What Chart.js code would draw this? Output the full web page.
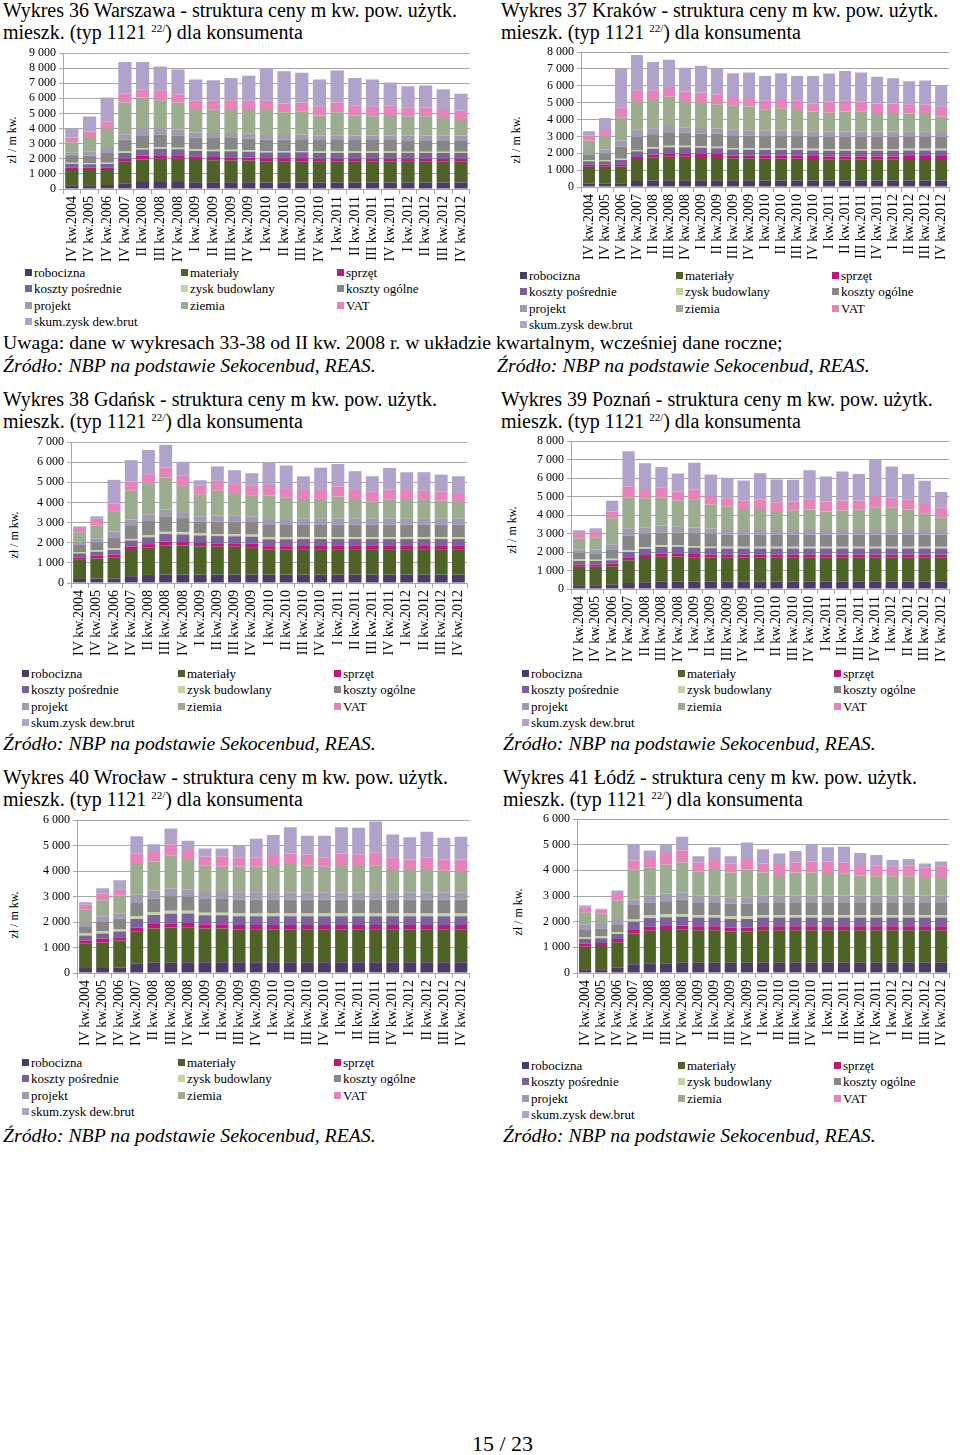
<!DOCTYPE html>
<html lang="pl">
<head>
<meta charset="utf-8">
<script src="https://cdn.jsdelivr.net/npm/chart.js@4/dist/chart.umd.min.js"></script>
<style>
  html, body { margin: 0; padding: 0; background: #fff; }
  body { width: 960px; height: 1455px; position: relative; overflow: hidden;
         font-family: "Liberation Serif", "Times New Roman", serif; color: #000; }
  .txt { position: absolute; white-space: nowrap; font-size: 20px; line-height: 22px; }
  .txt sup { font-size: 11px; vertical-align: 7px; line-height: 0; }
  .note { font-size: 19.7px; }
  .src { font-style: italic; font-size: 19.8px; }
  .ytitle { position: absolute; font-size: 12px; white-space: nowrap;
            transform: translate(-50%, -50%) rotate(-90deg); }
  .leg { position: absolute; font-size: 13px; line-height: 16px; white-space: nowrap; }
  .leg i { display: inline-block; width: 7px; height: 7px; margin-right: 2px; vertical-align: 1px; }
  canvas { position: absolute; }
</style>
</head>
<body>
<script>
// kategorie (osie X) i skladniki ceny
const kwartaly = ['IV kw.2004', 'IV kw.2005', 'IV kw.2006', 'IV kw.2007', 'II kw.2008', 'III kw.2008',
  'IV kw.2008', 'I kw.2009', 'II kw.2009', 'III kw.2009', 'IV kw.2009', 'I kw.2010', 'II kw.2010',
  'III kw.2010', 'IV kw.2010', 'I kw.2011', 'II kw.2011', 'III kw.2011', 'IV kw.2011', 'I kw.2012',
  'II kw.2012', 'III kw.2012', 'IV kw.2012'];
const skladniki = ['robocizna', 'materiały', 'sprzęt', 'koszty pośrednie', 'zysk budowlany',
  'koszty ogólne', 'projekt', 'ziemia', 'VAT', 'skum.zysk dew.brut'];
const kolory = ['#4a3b68', '#4f6228', '#c0187c', '#7d619e', '#c3d69b',
  '#878787', '#a09bb2', '#9cac8f', '#e584b8', '#b1a2cc'];

// Warszawa (zł / m kw.)
const wawRobocizna = [250,250,260,350,460,460,460,440,440,440,440,430,430,430,430,430,430,430,430,430,430,430,430];
const wawMaterialy = [1000,1000,1000,1450,1500,1540,1540,1480,1460,1450,1440,1400,1400,1410,1380,1380,1380,1380,1380,1370,1370,1370,1370];
const wawSprzet = [150,150,150,200,240,240,230,220,220,210,200,200,200,200,200,200,200,200,200,200,200,200,200];
const wawKosztyPosr = [250,230,250,380,410,420,400,380,380,390,390,380,380,390,380,380,380,380,380,380,380,380,380];
const wawZyskBud = [80,80,80,100,110,110,100,100,100,100,100,90,90,90,90,90,90,90,90,90,90,90,90];
const wawKosztyOg = [450,500,640,800,830,820,800,780,780,790,780,780,770,770,760,770,760,760,760,760,760,760,760];
const wawProjekt = [220,250,400,350,440,420,400,330,320,320,310,300,300,300,300,300,300,300,300,310,310,300,310];
const wawZiemia = [700,980,1200,2100,2070,1870,1800,1570,1550,1600,1570,1650,1510,1530,1320,1530,1320,1270,1360,1270,1270,1170,1100];
const wawVat = [300,360,470,570,540,660,540,580,590,580,610,610,580,610,590,650,650,640,610,590,590,590,540];
const wawSkum = [600,1000,1600,2100,1800,1560,1630,1370,1360,1470,1660,2160,2140,1970,1800,2120,1840,1800,1540,1400,1450,1310,1120];

// Kraków
const krkRobocizna = [200,200,220,350,380,400,400,400,400,400,400,390,390,390,390,390,390,390,390,390,390,390,390];
const krkMaterialy = [1000,1000,1000,1250,1350,1400,1400,1380,1380,1300,1300,1290,1290,1290,1270,1250,1250,1250,1250,1250,1270,1270,1270];
const krkSprzet = [120,130,130,180,180,180,180,180,170,170,170,170,170,170,170,170,170,170,170,170,170,170,170];
const krkKosztyPosr = [200,200,250,340,360,380,370,360,350,350,340,340,340,340,340,340,340,340,340,340,340,340,340];
const krkZyskBud = [70,70,80,80,90,90,90,90,90,90,90,90,90,90,90,90,90,90,90,90,90,90,90];
const krkKosztyOg = [350,380,700,770,770,790,770,760,760,760,740,730,730,730,730,730,730,730,730,730,720,720,700];
const krkProjekt = [200,240,380,420,350,380,330,330,320,320,320,320,320,320,320,320,320,320,320,320,320,320,300];
const krkZiemia = [600,780,1370,1710,1670,1730,1560,1500,1440,1460,1410,1250,1330,1290,1170,1110,1190,1170,1090,1090,1060,1020,910];
const krkVat = [300,440,590,640,590,580,560,600,590,490,570,530,490,490,490,650,630,590,570,570,550,550,580];
const krkSkum = [260,650,2280,2080,1670,1610,1410,1590,1500,1400,1440,1470,1590,1470,1610,1670,1770,1730,1590,1490,1360,1440,1280];

// Gdańsk
const gdaRobocizna = [200,220,230,340,400,420,420,420,420,420,420,420,420,420,420,420,420,420,420,420,420,420,420];
const gdaMaterialy = [950,1000,1050,1300,1350,1450,1440,1400,1380,1380,1360,1250,1250,1260,1260,1260,1260,1260,1260,1260,1260,1260,1260];
const gdaSprzet = [120,130,130,170,180,180,170,170,170,170,170,160,160,160,160,160,160,160,160,160,160,160,160];
const gdaKosztyPosr = [200,200,230,300,340,380,380,370,360,350,350,340,340,340,340,340,340,340,340,340,340,340,340];
const gdaZyskBud = [70,70,80,80,90,110,110,100,100,100,100,90,90,90,90,90,90,90,90,90,90,90,90];
const gdaKosztyOg = [350,380,550,680,720,740,700,580,620,620,620,620,620,620,620,620,620,620,620,620,620,620,620];
const gdaProjekt = [150,200,280,280,330,360,300,250,300,300,290,300,300,300,300,300,300,300,300,300,300,300,300];
const gdaZiemia = [480,660,980,1430,1500,1600,1340,1100,1230,1130,1050,1170,1080,980,980,1100,980,870,970,930,930,900,820];
const gdaVat = [210,330,400,460,490,490,490,440,490,440,460,520,450,450,490,500,450,490,490,500,460,440,460];
const gdaSkum = [80,120,1190,1060,1200,1130,670,270,720,690,630,1110,1120,680,1070,1120,930,750,1060,880,920,850,830];

// Poznań
const pozRobocizna = [200,200,230,330,370,400,400,400,400,400,400,400,400,400,400,400,400,400,400,400,400,400,400];
const pozMaterialy = [1000,1000,1000,1220,1300,1350,1360,1320,1300,1290,1290,1290,1290,1290,1290,1290,1290,1290,1290,1290,1290,1290,1290];
const pozSprzet = [120,120,130,170,170,170,170,170,160,160,160,160,160,160,160,160,160,160,160,160,160,160,160];
const pozKosztyPosr = [200,190,200,280,340,350,350,340,340,340,340,340,340,340,340,340,340,340,340,340,340,340,340];
const pozZyskBud = [70,70,70,80,90,100,100,90,90,90,90,90,90,90,90,90,90,90,90,90,90,90,90];
const pozKosztyOg = [350,350,520,800,700,680,680,680,680,660,660,660,660,660,660,660,660,660,660,660,660,660,660];
const pozProjekt = [180,200,270,380,370,380,330,330,300,300,300,300,300,300,300,300,300,300,300,300,300,300,300];
const pozZiemia = [600,640,1410,1700,1570,1530,1390,1490,1300,1220,1090,1090,970,1000,1060,950,1000,1040,1180,1150,1060,860,640];
const pozVat = [300,310,360,580,500,510,490,560,450,450,450,510,480,490,520,540,540,500,600,570,520,500,510];
const pozSkum = [150,210,580,1910,1390,1130,970,1450,1170,1100,1080,1420,1230,1170,1600,1350,1570,1440,1980,1660,1400,1250,860];

// Wrocław
const wroRobocizna = [200,200,220,360,400,400,420,420,420,420,420,420,420,420,420,420,420,420,420,420,420,420,420];
const wroMaterialy = [950,1000,1050,1260,1350,1380,1370,1330,1330,1300,1300,1300,1300,1300,1300,1300,1300,1300,1300,1300,1300,1300,1300];
const wroSprzet = [120,150,130,160,170,170,170,160,160,160,160,160,160,160,160,160,160,160,160,160,160,160,160];
const wroKosztyPosr = [200,200,230,340,350,370,370,350,350,350,350,350,350,350,350,350,350,350,350,350,350,350,350];
const wroZyskBud = [80,80,80,100,100,120,110,100,100,100,100,100,100,100,100,100,100,100,100,100,100,100,100];
const wroKosztyOg = [280,400,420,550,550,570,550,540,540,540,540,540,540,540,540,540,540,540,540,540,540,540,540];
const wroProjekt = [150,200,200,300,320,300,280,280,280,300,300,300,300,300,300,300,300,300,300,300,300,300,300];
const wroZiemia = [520,620,710,1200,1130,1310,1160,1030,990,1000,1000,1030,1100,1060,1000,1030,1030,1060,910,870,910,840,830];
const wroVat = [190,260,240,420,380,430,390,360,390,360,360,390,420,420,360,490,450,500,440,410,450,440,450];
const wroSkum = [80,210,360,670,300,620,370,310,320,460,730,820,1030,730,850,1030,1050,1210,910,870,1010,850,890];

// Łódź
const lodRobocizna = [150,150,200,340,380,380,400,400,400,400,400,400,400,400,400,400,400,400,400,400,400,400,400];
const lodMaterialy = [870,900,1000,1200,1270,1300,1300,1270,1270,1220,1220,1270,1270,1270,1270,1270,1270,1270,1270,1270,1270,1270,1270];
const lodSprzet = [120,120,120,160,150,150,150,150,150,150,150,150,150,150,150,150,150,150,150,150,150,150,150];
const lodKosztyPosr = [180,180,200,300,340,340,340,340,340,330,330,340,340,340,340,340,340,340,340,340,340,340,340];
const lodZyskBud = [80,80,80,100,100,110,110,100,100,100,100,100,100,100,100,100,100,100,100,100,100,100,100];
const lodKosztyOg = [300,300,300,550,500,520,560,500,500,500,500,500,500,500,500,500,500,500,500,500,500,500,500];
const lodProjekt = [200,180,200,200,270,300,280,250,250,250,250,250,250,250,250,250,250,250,250,250,250,250,250];
const lodZiemia = [470,400,720,1170,1110,1120,1170,950,1040,970,1080,910,810,910,910,890,880,790,760,760,760,690,690];
const lodVat = [170,160,260,360,360,420,460,350,390,350,410,350,430,390,420,440,420,410,410,370,410,420,460];
const lodSkum = [90,30,130,650,290,360,540,240,460,280,640,550,410,440,690,560,610,470,420,260,260,150,180];

const wykresy = [
  { nr: 36, miasto: 'Warszawa', max: 9000, x: 3, tytulY: -1, left: 0, right: 480, plotLeft: 63, plotRight: 470, plotTop: 52, plotBottom: 189,
    yt: [12, 140], leg: [25, 273],
    series: [wawRobocizna, wawMaterialy, wawSprzet, wawKosztyPosr, wawZyskBud, wawKosztyOg, wawProjekt, wawZiemia, wawVat, wawSkum] },
  { nr: 37, miasto: 'Kraków', max: 8000, x: 501, tytulY: -1, left: 500, right: 960, plotLeft: 581, plotRight: 957, plotTop: 51, plotBottom: 187,
    yt: [516, 140], leg: [520, 276],
    series: [krkRobocizna, krkMaterialy, krkSprzet, krkKosztyPosr, krkZyskBud, krkKosztyOg, krkProjekt, krkZiemia, krkVat, krkSkum] },
  { nr: 38, miasto: 'Gdańsk', max: 7000, x: 3, tytulY: 388, left: 0, right: 480, plotLeft: 71, plotRight: 467, plotTop: 441, plotBottom: 583,
    yt: [14, 535], leg: [22, 674],
    series: [gdaRobocizna, gdaMaterialy, gdaSprzet, gdaKosztyPosr, gdaZyskBud, gdaKosztyOg, gdaProjekt, gdaZiemia, gdaVat, gdaSkum] },
  { nr: 39, miasto: 'Poznań', max: 8000, x: 501, tytulY: 388, left: 500, right: 960, plotLeft: 571, plotRight: 955, plotTop: 440, plotBottom: 589,
    yt: [512, 530], leg: [522, 674],
    series: [pozRobocizna, pozMaterialy, pozSprzet, pozKosztyPosr, pozZyskBud, pozKosztyOg, pozProjekt, pozZiemia, pozVat, pozSkum] },
  { nr: 40, miasto: 'Wrocław', max: 6000, x: 3, tytulY: 766, left: 0, right: 480, plotLeft: 77, plotRight: 470, plotTop: 819, plotBottom: 973,
    yt: [14, 915], leg: [22, 1063],
    series: [wroRobocizna, wroMaterialy, wroSprzet, wroKosztyPosr, wroZyskBud, wroKosztyOg, wroProjekt, wroZiemia, wroVat, wroSkum] },
  { nr: 41, miasto: 'Łódź', max: 6000, x: 503, tytulY: 766, left: 500, right: 960, plotLeft: 577, plotRight: 957, plotTop: 818, plotBottom: 973,
    yt: [518, 912], leg: [522, 1066],
    series: [lodRobocizna, lodMaterialy, lodSprzet, lodKosztyPosr, lodZyskBud, lodKosztyOg, lodProjekt, lodZiemia, lodVat, lodSkum] }
];

const fontTick = { family: 'Liberation Serif', size: 12, lineHeight: 1 };
const szary = '#a6a6a6';

function addText(html, x, y, cls) {
  const d = document.createElement('div');
  d.className = cls;
  d.style.left = x + 'px';
  d.style.top = y + 'px';
  d.innerHTML = html;
  document.body.appendChild(d);
  return d;
}

function makeChart(w) {
  // tytul
  addText(`Wykres ${w.nr} ${w.miasto} - struktura ceny m kw. pow. użytk.`, w.x, w.tytulY, 'txt');
  addText('mieszk. (typ 1121 <sup>22/</sup>) dla konsumenta', w.x, w.tytulY + 22, 'txt');
  addText('zł / m kw.', w.yt[0], w.yt[1], 'ytitle');

  // legenda w trzech kolumnach
  skladniki.forEach((n, i) => {
    const col = i % 3, row = Math.floor(i / 3);
    addText(`<i style="background:${kolory[i]}"></i>${n}`, w.leg[0] + [0, 156, 312][col], w.leg[1] - 8 + row * 16.3, 'leg');
  });

  const padTop = 8, xAxisH = 76;
  const top = w.plotTop - padTop;
  const width = w.right - w.left;
  const height = w.plotBottom - top + xAxisH;
  const cv = document.createElement('canvas');
  cv.width = width; cv.height = height;
  cv.style.left = w.left + 'px'; cv.style.top = top + 'px';
  cv.style.width = width + 'px'; cv.style.height = height + 'px';
  document.body.appendChild(cv);

  new Chart(cv, {
    type: 'bar',
    data: {
      labels: kwartaly,
      datasets: skladniki.map((n, i) => ({
        label: n, data: w.series[i], backgroundColor: kolory[i],
        borderWidth: 0, barPercentage: 0.75, categoryPercentage: 1
      }))
    },
    options: {
      responsive: false, animation: false, devicePixelRatio: 1,
      layout: { padding: { top: padTop, right: w.right - w.plotRight, left: 0, bottom: 0 } },
      plugins: { legend: { display: false }, tooltip: { enabled: false } },
      scales: {
        x: {
          stacked: true,
          grid: { display: true, drawOnChartArea: false, offset: true, tickLength: 5, color: szary },
          border: { color: szary },
          ticks: { minRotation: 90, maxRotation: 90, autoSkip: false, font: { family: 'Liberation Serif', size: 14 }, color: '#000', padding: 2 },
          afterFit: s => { s.height = xAxisH; }
        },
        y: {
          stacked: true, min: 0, max: w.max,
          ticks: { stepSize: 1000, maxTicksLimit: 12, autoSkip: false, font: fontTick, color: '#000', padding: 3,
                   callback: v => v === 0 ? '0' : (v / 1000) + ' 000' },
          grid: { color: szary, tickLength: 4 },
          border: { color: szary },
          afterFit: s => { s.width = w.plotLeft - w.left; }
        }
      }
    }
  });
}

wykresy.forEach(makeChart);

addText('Uwaga: dane w wykresach 33-38 od II kw. 2008 r. w układzie kwartalnym, wcześniej dane roczne;', 3, 331, 'txt note');
const zrodlo = 'Źródło: NBP na podstawie Sekocenbud, REAS.';
[[3, 354], [497, 354], [3, 732], [503, 732], [3, 1124], [503, 1124]].forEach(p => addText(zrodlo, p[0], p[1], 'txt src'));
const strona = addText('15 / 23', 472, 1433, 'txt');
strona.style.fontSize = '22px';
</script>
</body>
</html>
